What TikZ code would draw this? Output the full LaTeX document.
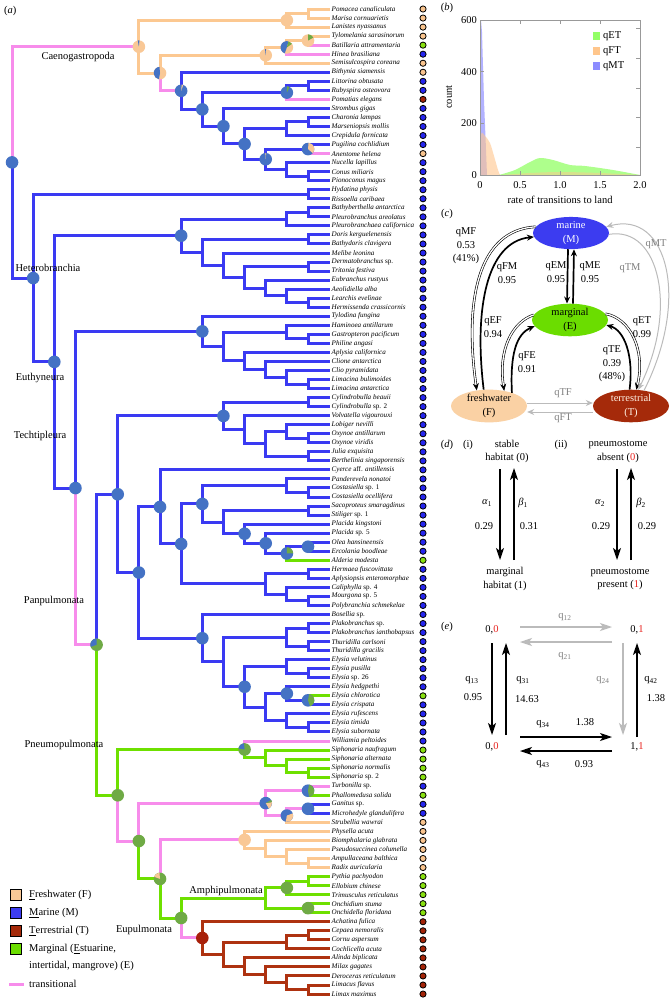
\documentclass[tikz,border=0pt]{standalone}
\usepackage{fontspec}
\setmainfont{Liberation Serif}
\usetikzlibrary{calc,arrows.meta,shapes.geometric}
\definecolor{brO}{HTML}{FCC891}
\definecolor{brB}{HTML}{3A3AF2}
\definecolor{brG}{HTML}{6EE000}
\definecolor{brR}{HTML}{AE3210}
\definecolor{brP}{HTML}{F78CEB}
\definecolor{pB}{HTML}{4472C4}
\definecolor{pO}{HTML}{F9C896}
\definecolor{pG}{HTML}{6FAA45}
\definecolor{pR}{HTML}{A8200A}
\definecolor{dO}{HTML}{F9C48E}
\definecolor{dB}{HTML}{2626EE}
\definecolor{dG}{HTML}{88E010}
\definecolor{dR}{HTML}{A32408}
\definecolor{mB}{HTML}{3C3CF0}
\definecolor{mE}{HTML}{6BDD00}
\definecolor{mF}{HTML}{FAD1A4}
\definecolor{mT}{HTML}{A52A0A}
\definecolor{gr}{HTML}{BBBBBB}
\definecolor{rd}{HTML}{E8221E}
\newcommand\fs{\fontsize{10.5}{13.5}\selectfont}
\newcommand\fl{\fontsize{7.1}{8}\selectfont\itshape}
\newcommand\mknd[4]{\path let \p1=($(#3)!.5!(#4)$) in coordinate (#1) at ({(308-21.14*(#2-1))*1pt},\y1);}
\newcommand\edg[3]{\foreach \cc in {#3}{\draw[#1] (#2) |- (\cc);}}
\newcommand\pf[2]{\fill[#2] (#1) circle[radius=6.3];}
\newcommand\psc[4]{\fill[#2] (#1) -- ++({-(#3)}:6.3) arc[start angle={-(#3)},end angle={-(#4)},radius=6.3] -- cycle;}
\begin{document}
\begin{tikzpicture}[x=1pt,y=-1pt,
  bO/.style={draw=brO,line width=3pt},
  bB/.style={draw=brB,line width=3pt},
  bG/.style={draw=brG,line width=3pt},
  bR/.style={draw=brR,line width=3pt},
  bP/.style={draw=brP,line width=3pt},
  leaf/.style={anchor=west,inner sep=0pt,font=\fl},
  tip/.style={circle,draw=black,line width=0.8pt,minimum size=6.2pt,inner sep=0pt},
  clade/.style={inner sep=0pt,font=\fs},
  ft/.style={inner sep=0pt,font=\fs},
  ell/.style={ellipse,minimum width=76pt,minimum height=27pt,inner sep=0pt,align=center,font=\fs},
  dbl/.style={double=white,double distance=1.3pt,line width=0.6pt},
  sol/.style={line width=1.7pt},
  tipc/.style={-{Stealth[length=7pt,width=6pt]}},
  big/.style={line width=1.2pt,-{Stealth[length=12pt,width=8pt,inset=3pt]}},
  ax/.style={draw=gray!80,line width=0.6pt}]
\useasboundingbox (0,0) rectangle (672,999);
\fill[white] (0,0) rectangle (672,999);
% ---------------- leaves
\foreach \i/\nm/\dc in {1/Pomacea canaliculata/dO,2/Marisa cornuarietis/dO,3/Lanistes nyassanus/dO,4/Tylomelania sarasinorum/dO,5/Batillaria attramentaria/dG,6/Hinea brasiliana/dB,7/Semisulcospira coreana/dO,8/Bithynia siamensis/dO,9/Littorina obtusata/dB,10/Rubyspira osteovora/dB,11/Pomatias elegans/dR,12/Strombus gigas/dB,13/Charonia lampas/dB,14/Marseniopsis mollis/dB,15/Crepidula fornicata/dB,16/Pugilina cochlidium/dB,17/Anentome helena/dO,18/Nucella lapillus/dB,19/Conus miliaris/dB,20/Pionoconus magus/dB,21/Hydatina physis/dB,22/Rissoella caribaea/dB,23/Bathyberthella antarctica/dB,24/Pleurobranchus areolatus/dB,25/Pleurobranchaea californica/dB,26/Doris kerguelenensis/dB,27/Bathydoris clavigera/dB,28/Melibe leonina/dB,29/Dermatobranchus \textup{sp.}/dB,30/Tritonia festiva/dB,31/Eubranchus rustyus/dB,32/Aeolidiella alba/dB,33/Learchis evelinae/dB,34/Hermissenda crassicornis/dB,35/Tylodina fungina/dB,36/Haminoea antillarum/dB,37/Gastropteron pacificum/dB,38/Philine angasi/dB,39/Aplysia californica/dB,40/Clione antarctica/dB,41/Clio pyramidata/dB,42/Limacina bulimoides/dB,43/Limacina antarctica/dB,44/Cylindrobulla beauii/dB,45/Cylindrobulla \textup{sp. 2}/dB,46/Volvatella vigourouxi/dB,47/Lobiger nevilli/dB,48/Oxynoe antillarum/dB,49/Oxynoe viridis/dB,50/Julia exquisita/dB,51/Berthelinia singaporensis/dB,52/Cyerce \textup{aff.} antillensis/dB,53/Panderevela nonatoi/dB,54/Costasiella \textup{sp. 1}/dB,55/Costasiella ocellifera/dB,56/Sacoproteus smaragdinus/dB,57/Stiliger \textup{sp. 1}/dB,58/Placida kingstoni/dB,59/Placida \textup{sp. 5}/dB,60/Olea hansineensis/dB,61/Ercolania boodleae/dB,62/Alderia modesta/dG,63/Hermaea fuscovittata/dB,64/Aplysiopsis enteromorphae/dB,65/Caliphylla \textup{sp. 4}/dB,66/Mourgona \textup{sp. 5}/dB,67/Polybranchia schmekelae/dB,68/Bosellia \textup{sp.}/dB,69/Plakobranchus \textup{sp.}/dB,70/Plakobranchus ianthobapsus/dB,71/Thuridilla carlsoni/dB,72/Thuridilla gracilis/dB,73/Elysia velutinus/dB,74/Elysia pusilla/dB,75/Elysia \textup{sp. 26}/dB,76/Elysia hedgpethi/dB,77/Elysia chlorotica/dG,78/Elysia crispata/dB,79/Elysia rufescens/dB,80/Elysia timida/dB,81/Elysia subornata/dB,82/Williamia peltoides/dB,83/Siphonaria naufragum/dG,84/Siphonaria alternata/dG,85/Siphonaria normalis/dG,86/Siphonaria \textup{sp. 2}/dG,87/Turbonilla \textup{sp.}/dB,88/Phallomedusa solida/dG,89/Ganitus \textup{sp.}/dB,90/Microhedyle glandulifera/dB,91/Strubellia wawrai/dO,92/Physella acuta/dO,93/Biomphalaria glabrata/dO,94/Pseudosuccinea columella/dO,95/Ampullaceana balthica/dO,96/Radix auricularia/dO,97/Pythia pachyodon/dG,98/Ellobium chinese/dG,99/Trimusculus reticulatus/dG,100/Onchidium stuma/dG,101/Onchidella floridana/dG,102/Achatina fulica/dR,103/Cepaea nemoralis/dR,104/Cornu aspersum/dR,105/Cochlicella acuta/dR,106/Alinda biplicata/dR,107/Milax gagates/dR,108/Deroceras reticulatum/dR,109/Limacus flavus/dR,110/Limax maximus/dR}{
  \pgfmathsetmacro\yy{9+(\i-1)*9.037}
  \coordinate (L\i) at (330,\yy);
  \node[leaf] (T\i) at (331.5,\yy) {\nm};
  \node[tip,fill=\dc] (D\i) at (423,\yy) {};
}
% ---------------- internal nodes
\mknd{pm}{1}{L1}{L2}\mknd{a1}{2}{pm}{L3}\mknd{tb}{1}{L4}{L5}\mknd{c}{2}{tb}{L6}\mknd{b}{3}{c}{L7}
\mknd{lr}{1}{L9}{L10}\mknd{lrp}{2}{lr}{L11}\mknd{cm}{1}{L13}{L14}\mknd{cmc}{2}{cm}{L15}
\mknd{pa}{1}{L16}{L17}\mknd{cp}{1}{L19}{L20}\mknd{ncp}{2}{L18}{cp}\mknd{h}{3}{pa}{ncp}
\mknd{g}{4}{cmc}{h}\mknd{f}{5}{L12}{g}\mknd{e}{6}{lrp}{f}\mknd{d}{7}{L8}{e}\mknd{a2}{8}{b}{d}\mknd{caeno}{9}{a1}{a2}
\mknd{hr}{1}{L21}{L22}\mknd{bp}{1}{L23}{L24}\mknd{pl}{2}{bp}{L25}\mknd{db}{1}{L26}{L27}
\mknd{dt}{1}{L29}{L30}\mknd{lh}{1}{L33}{L34}\mknd{alh}{2}{L32}{lh}\mknd{ealh}{3}{L31}{alh}
\mknd{dte}{4}{dt}{ealh}\mknd{mdte}{5}{L28}{dte}\mknd{nudib}{6}{db}{mdte}\mknd{nudip}{7}{pl}{nudib}
\mknd{gp}{1}{L37}{L38}\mknd{ceph}{2}{L36}{gp}\mknd{lim}{1}{L42}{L43}\mknd{cl}{2}{L41}{lim}
\mknd{ccl}{3}{L40}{cl}\mknd{acl}{4}{L39}{ccl}\mknd{cepa}{5}{ceph}{acl}\mknd{euop}{6}{L35}{cepa}
\mknd{cyl}{1}{L44}{L45}\mknd{oxy}{1}{L48}{L49}\mknd{lo}{2}{L47}{oxy}\mknd{jb}{1}{L50}{L51}
\mknd{ljb}{3}{lo}{jb}\mknd{vol}{4}{L46}{ljb}\mknd{oxyn}{5}{cyl}{vol}
\mknd{cos}{1}{L54}{L55}\mknd{pcs}{2}{L53}{cos}\mknd{ss}{1}{L56}{L57}\mknd{oe}{1}{L60}{L61}
\mknd{n1}{2}{oe}{L62}\mknd{n2}{3}{L59}{n1}\mknd{n3}{4}{L58}{n2}\mknd{n4}{5}{ss}{n3}\mknd{n5}{6}{pcs}{n4}
\mknd{ha}{1}{L63}{L64}\mknd{mp}{1}{L66}{L67}\mknd{cmp}{2}{L65}{mp}\mknd{hcmp}{3}{ha}{cmp}
\mknd{lm}{7}{n5}{hcmp}\mknd{cy}{8}{L52}{lm}
\mknd{pk}{1}{L69}{L70}\mknd{th}{1}{L71}{L72}\mknd{pt}{2}{pk}{th}\mknd{ps}{1}{L74}{L75}
\mknd{vps}{2}{L73}{ps}\mknd{cc}{1}{L77}{L78}\mknd{hcc}{2}{L76}{cc}\mknd{ts}{1}{L80}{L81}
\mknd{rts}{2}{L79}{ts}\mknd{hrr}{3}{hcc}{rts}\mknd{ely}{4}{vps}{hrr}\mknd{ptely}{5}{pt}{ely}
\mknd{plako}{6}{L68}{ptely}\mknd{plkb}{9}{cy}{plako}\mknd{sacog}{10}{oxyn}{plkb}
\mknd{sn}{1}{L85}{L86}\mknd{asn}{2}{L84}{sn}\mknd{nasn}{3}{L83}{asn}\mknd{siph}{4}{L82}{nasn}
\mknd{tp}{1}{L87}{L88}\mknd{gm}{1}{L89}{L90}\mknd{gms}{2}{gm}{L91}\mknd{x}{3}{tp}{gms}
\mknd{ar}{1}{L95}{L96}\mknd{par}{2}{L94}{ar}\mknd{bpar}{3}{L93}{par}\mknd{hyg}{4}{L92}{bpar}
\mknd{pye}{1}{L97}{L98}\mknd{pet}{2}{pye}{L99}\mknd{oo}{1}{L100}{L101}\mknd{amph}{3}{pet}{oo}
\mknd{cct}{1}{L103}{L104}\mknd{ccc}{2}{cct}{L105}\mknd{ll}{1}{L109}{L110}\mknd{dll}{2}{L108}{ll}
\mknd{mdll}{3}{L107}{dll}\mknd{amdll}{4}{L106}{mdll}\mknd{cam}{5}{ccc}{amdll}\mknd{stylo}{6}{L102}{cam}
\mknd{eupul}{7}{amph}{stylo}\mknd{hyeu}{8}{hyg}{eupul}\mknd{q}{9}{x}{hyeu}\mknd{pneu}{10}{siph}{q}
\mknd{panpul}{11}{sacog}{pneu}\mknd{tecti}{12}{euop}{panpul}\mknd{euthy}{13}{nudip}{tecti}
\mknd{het}{14}{hr}{euthy}\mknd{root}{15}{caeno}{het}
% ---------------- edges
\edg{bO}{pm}{L1,L2}\edg{bO}{a1}{pm,L3}\edg{bO}{tb}{L4}\edg{bP}{tb}{L5}
\edg{bO}{c}{tb}\edg{bP}{c}{L6}\edg{bO}{b}{c,L7}\edg{bO}{a2}{b}\edg{bP}{a2}{d}
\edg{bO}{caeno}{a1,a2}\edg{bP}{root}{caeno}
\edg{bB}{d}{L8,e}\edg{bB}{e}{lrp,f}\edg{bB}{lrp}{lr}\edg{bP}{lrp}{L11}\edg{bB}{lr}{L9,L10}
\edg{bB}{f}{L12,g}\edg{bB}{g}{cmc,h}\edg{bB}{cmc}{cm,L15}\edg{bB}{cm}{L13,L14}
\edg{bB}{h}{pa,ncp}\edg{bB}{pa}{L16}\edg{bP}{pa}{L17}\edg{bB}{ncp}{L18,cp}\edg{bB}{cp}{L19,L20}
\edg{bB}{root}{het}\edg{bB}{het}{hr,euthy}\edg{bB}{hr}{L21,L22}\edg{bB}{euthy}{nudip,tecti}
\edg{bB}{nudip}{pl,nudib}\edg{bB}{pl}{bp,L25}\edg{bB}{bp}{L23,L24}\edg{bB}{nudib}{db,mdte}
\edg{bB}{db}{L26,L27}\edg{bB}{mdte}{L28,dte}\edg{bB}{dte}{dt,ealh}\edg{bB}{dt}{L29,L30}
\edg{bB}{ealh}{L31,alh}\edg{bB}{alh}{L32,lh}\edg{bB}{lh}{L33,L34}
\edg{bB}{tecti}{euop}\edg{bB}{euop}{L35,cepa}\edg{bB}{cepa}{ceph,acl}\edg{bB}{ceph}{L36,gp}
\edg{bB}{gp}{L37,L38}\edg{bB}{acl}{L39,ccl}\edg{bB}{ccl}{L40,cl}\edg{bB}{cl}{L41,lim}\edg{bB}{lim}{L42,L43}
\edg{bP}{tecti}{panpul}\edg{bB}{panpul}{sacog}\edg{bB}{sacog}{oxyn,plkb}\edg{bB}{oxyn}{cyl,vol}
\edg{bB}{cyl}{L44,L45}\edg{bB}{vol}{L46,ljb}\edg{bB}{ljb}{lo,jb}\edg{bB}{lo}{L47,oxy}
\edg{bB}{oxy}{L48,L49}\edg{bB}{jb}{L50,L51}\edg{bB}{plkb}{cy,plako}\edg{bB}{cy}{L52,lm}
\edg{bB}{lm}{n5,hcmp}\edg{bB}{n5}{pcs,n4}\edg{bB}{pcs}{L53,cos}\edg{bB}{cos}{L54,L55}
\edg{bB}{n4}{ss,n3}\edg{bB}{ss}{L56,L57}\edg{bB}{n3}{L58,n2}\edg{bB}{n2}{L59,n1}
\edg{bB}{n1}{oe}\edg{bG}{n1}{L62}\edg{bB}{oe}{L60,L61}\edg{bB}{hcmp}{ha,cmp}\edg{bB}{ha}{L63,L64}
\edg{bB}{cmp}{L65,mp}\edg{bB}{mp}{L66,L67}\edg{bB}{plako}{L68,ptely}\edg{bB}{ptely}{pt,ely}
\edg{bB}{pt}{pk,th}\edg{bB}{pk}{L69,L70}\edg{bB}{th}{L71,L72}\edg{bB}{ely}{vps,hrr}
\edg{bB}{vps}{L73,ps}\edg{bB}{ps}{L74,L75}\edg{bB}{hrr}{hcc,rts}\edg{bB}{hcc}{L76,cc}
\edg{bG}{cc}{L77}\edg{bB}{cc}{L78}\edg{bB}{rts}{L79,ts}\edg{bB}{ts}{L80,L81}
\edg{bG}{panpul}{pneu}\edg{bG}{pneu}{siph}\edg{bP}{siph}{L82}\edg{bG}{siph}{nasn}
\edg{bG}{nasn}{L83,asn}\edg{bG}{asn}{L84,sn}\edg{bG}{sn}{L85,L86}
\edg{bP}{pneu}{q}\edg{bP}{q}{x}\edg{bG}{q}{hyeu}\edg{bP}{x}{tp,gms}\edg{bP}{tp}{L87}\edg{bG}{tp}{L88}
\edg{bP}{gms}{gm}\edg{bO}{gms}{L91}\edg{bB}{gm}{L89,L90}
\edg{bP}{hyeu}{hyg}\edg{bG}{hyeu}{eupul}\edg{bO}{hyg}{L92,bpar}\edg{bO}{bpar}{L93,par}
\edg{bO}{par}{L94,ar}\edg{bO}{ar}{L95,L96}
\edg{bG}{eupul}{amph}\edg{bP}{eupul}{stylo}\edg{bG}{amph}{pet,oo}\edg{bG}{pet}{pye,L99}
\edg{bG}{pye}{L97,L98}\edg{bG}{oo}{L100,L101}
\edg{bR}{stylo}{L102,cam}\edg{bR}{cam}{ccc,amdll}\edg{bR}{ccc}{cct,L105}\edg{bR}{cct}{L103,L104}
\edg{bR}{amdll}{L106,mdll}\edg{bR}{mdll}{L107,dll}\edg{bR}{dll}{L108,ll}\edg{bR}{ll}{L109,L110}
% ---------------- pies
\pf{caeno}{pO}\psc{caeno}{pB}{85}{100}
\pf{a1}{pO}
\pf{a2}{pO}\psc{a2}{pB}{95}{260}
\pf{b}{pO}\psc{b}{pB}{88}{96}
\pf{c}{pO}\psc{c}{pB}{75}{250}\psc{c}{pG}{35}{75}
\pf{tb}{pO}\psc{tb}{pG}{30}{90}
\pf{d}{pB}\psc{d}{pO}{70}{85}
\pf{e}{pB}
\pf{lrp}{pB}\psc{lrp}{pG}{65}{88}
\pf{f}{pB}\pf{g}{pB}
\pf{h}{pB}\psc{h}{pO}{86}{93}
\pf{pa}{pB}\psc{pa}{pO}{-40}{85}
\pf{root}{pB}\pf{het}{pB}\pf{euthy}{pB}\pf{tecti}{pB}
\pf{nudip}{pB}\pf{euop}{pB}\pf{oxyn}{pB}\pf{cy}{pB}\pf{lm}{pB}\pf{n5}{pB}\pf{n3}{pB}\pf{n2}{pB}
\pf{n1}{pB}\psc{n1}{pG}{0}{90}
\pf{oe}{pB}\pf{plako}{pB}\pf{ely}{pB}\pf{hcc}{pB}
\pf{cc}{pB}\psc{cc}{pG}{-70}{80}
\pf{sacog}{pB}\pf{plkb}{pB}
\pf{panpul}{pG}\psc{panpul}{pB}{90}{200}
\pf{pneu}{pG}\pf{q}{pG}
\pf{siph}{pG}\psc{siph}{pB}{95}{170}
\pf{x}{pB}\psc{x}{pO}{-60}{10}\psc{x}{pG}{10}{30}
\pf{tp}{pB}\psc{tp}{pG}{-80}{80}
\pf{gms}{pB}\psc{gms}{pO}{-100}{20}
\pf{gm}{pB}
\pf{hyg}{pO}
\pf{hyeu}{pG}\psc{hyeu}{pO}{95}{160}
\pf{eupul}{pG}\pf{pet}{pG}\pf{oo}{pG}
\pf{stylo}{pR}
% ---------------- clade labels
\node[ft,anchor=west] (lbla) at (4,11) {(\textit{a})};
\node[clade] (lc1) at (78,57) {Caenogastropoda};
\node[clade] (lc2) at (48,268) {Heterobranchia};
\node[clade] (lc3) at (40,378) {Euthyneura};
\node[clade] (lc4) at (40,436) {Techtipleura};
\node[clade] (lc5) at (54,601) {Panpulmonata};
\node[clade] (lc6) at (64,745) {Pneumopulmonata};
\node[clade] (lc7) at (226,891) {Amphipulmonata};
\node[clade] (lc8) at (144,930) {Eupulmonata};
% ---------------- legend
\foreach \yy/\cl/\tx [count=\k] in {895/pO/{\underline{F}reshwater (F)},913/mB/{\underline{M}arine (M)},931/mT/{\underline{T}errestrial (T)},949/mE/{Marginal (\underline{E}stuarine,}}{
  \filldraw[fill=\cl,draw=black,line width=0.8pt] (10,\yy-5.5) rectangle (21,\yy+5.5);
  \node[ft,anchor=west] (lg\k) at (29,\yy) {\tx};
}
\node[ft,anchor=west] (lg5) at (29,966) {intertidal, mangrove) (E)};
\draw[brP,line width=3pt] (9,984) -- (24,984);
\node[ft,anchor=west] (lg6) at (29,984) {transitional};
% ---------------- panel b
\node[ft] (lblb) at (447,8) {(\textit{b})};
\fill[blue!55,opacity=0.55] (481,175) -- (481,20) -- (482,32) -- (484,100) -- (485.5,137) -- (487,175) -- cycle;
\fill[orange!45,opacity=0.6] plot[smooth] coordinates {(481,175) (481,135) (485,136) (490,143) (494,156) (498,170) (500,175)} -- cycle;
\fill[green!60!lime,opacity=0.45] plot[smooth] coordinates {(499,175) (515,170) (530,162) (540,158) (553,160) (570,165) (585,166) (613,170) (640,175)} -- cycle;
\fill[orange!45,opacity=0.5] plot[smooth] coordinates {(502,175) (530,173) (560,172) (600,173) (640,175)} -- cycle;
\draw[ax] (480,20) rectangle (640,175);
\foreach \yy in {20,71.7,123.3}{\draw[ax] (480,\yy) -- (484,\yy);}
\foreach \yy in {28.5,58,88,117.5,147}{\draw[ax] (640,\yy) -- (636,\yy);}
\foreach \xx in {520,560,600}{\draw[ax] (\xx,20) -- (\xx,24); \draw[ax] (\xx,175) -- (\xx,171);}
\foreach \yy/\tt in {20/600,71.7/400,123.3/200,175/0}{\node[ft,anchor=east] at (477,\yy) {\tt};}
\foreach \xx/\tt in {480/0,520/0.5,560/1.0,600/1.5,640/2.0}{\node[ft] at (\xx,185) {\tt};}
\node[ft,rotate=90] (cnt) at (449,97) {count};
\node[ft] (rtl) at (560,200) {rate of transitions to land};
\fill[green!60!lime,opacity=0.6] (593,32) rectangle (600,40);
\fill[orange!45] (593,47) rectangle (600,55);
\fill[blue!45] (593,62) rectangle (600,70);
\node[ft,anchor=west] (lq1) at (603,36) {qET};
\node[ft,anchor=west] (lq2) at (603,51) {qFT};
\node[ft,anchor=west] (lq3) at (603,66) {qMT};
% ---------------- panel c
\node[ft] (lblc) at (447,214) {(\textit{c})};
\node[ell,fill=mB,text=white] (M) at (571,233) {marine\\(M)};
\node[ell,fill=mE] (E) at (570,320) {marginal\\(E)};
\node[ell,fill=mF] (F) at (489,406) {freshwater\\(F)};
\node[ell,fill=mT,text=white!90!orange] (T) at (631,406) {terrestrial\\(T)};
\draw[dbl,tipc] (M.170) .. controls (478,230) and (464,300) .. (F.128);
\draw[sol,tipc] (F.108) .. controls (474,310) and (486,242) .. (M.186);
\draw[dbl,tipc] (E.172) .. controls (512,322) and (498,350) .. (F.45);
\draw[sol,tipc] (F.30) .. controls (510,355) and (516,334) .. (E.190);
\draw[dbl,tipc] (E.10) .. controls (630,318) and (646,350) .. (T.72);
\draw[sol,tipc] (T.95) .. controls (634,355) and (624,330) .. (E.-8);
\draw[sol,tipc] ([xshift=-3pt]M.south) -- ([xshift=-3pt]E.north);
\draw[sol,tipc] ([xshift=3pt]E.north) -- ([xshift=3pt]M.north |- M.south);
\draw[gr,line width=1pt,tipc] (T.50) .. controls (690,300) and (668,210) .. (M.10);
\draw[gr,line width=1pt,tipc] (M.-2) .. controls (660,226) and (678,310) .. (T.66);
\draw[gr,line width=1pt,tipc] ([yshift=-6pt]T.west) -- ([yshift=-6pt]F.east);
\draw[gr,line width=1pt,tipc] ([yshift=3pt]F.east) -- ([yshift=3pt]T.west);
\node[ft,align=center] (l1) at (466,246) {qMF\\0.53\\(41\%)};
\node[ft,align=center] (l2) at (507,273) {qFM\\0.95};
\node[ft,align=center] (l3) at (556,272) {qEM\\0.95};
\node[ft,align=center] (l4) at (590,272) {qME\\0.95};
\node[ft,text=gray] (l5) at (656,244) {qMT};
\node[ft,text=gray] (l6) at (630,268) {qTM};
\node[ft,align=center] (l7) at (493,327) {qEF\\0.94};
\node[ft,align=center] (l8) at (527,362) {qFE\\0.91};
\node[ft,align=center] (l9) at (642,327) {qET\\0.99};
\node[ft,align=center] (l10) at (612,364) {qTE\\0.39\\(48\%)};
\node[ft,text=gray] (l11) at (563,393) {qTF};
\node[ft,text=gray] (l12) at (563,418) {qFT};
% ---------------- panel d
\node[ft] (lbld) at (447,445) {(\textit{d})};
\node[ft] (di) at (468,445) {(i)};
\node[ft,align=center] (s0) at (507,451.5) {stable\\habitat (0)};
\node[ft] (dii) at (561,445) {(ii)};
\node[ft,align=center] (p0) at (618,451.5) {pneumostome\\absent (\textcolor{rd}{0})};
\node[ft,align=center] (s1) at (505,579) {marginal\\habitat (1)};
\node[ft,align=center] (p1) at (620,579) {pneumostome\\present (\textcolor{rd}{1})};
\coordinate (da1) at (500,469); \coordinate (da2) at (500,560);
\coordinate (db1) at (514,560); \coordinate (db2) at (514,468);
\coordinate (dc1) at (617,469); \coordinate (dc2) at (617,560);
\coordinate (dd1) at (631,560); \coordinate (dd2) at (631,468);
\draw[big] (da1) -- (da2); \draw[big] (db1) -- (db2);
\draw[big] (dc1) -- (dc2); \draw[big] (dd1) -- (dd2);
\node[ft] (al1) at (487,503) {\textit{α}\textsubscript{1}};
\node[ft] (be1) at (523,503) {\textit{β}\textsubscript{1}};
\node[ft] (v1) at (484,526) {0.29};
\node[ft] (v2) at (529,526) {0.31};
\node[ft] (al2) at (600,503) {\textit{α}\textsubscript{2}};
\node[ft] (be2) at (641,503) {\textit{β}\textsubscript{2}};
\node[ft] (v3) at (601,526) {0.29};
\node[ft] (v4) at (647,526) {0.29};
% ---------------- panel e
\node[ft] (lble) at (447,627) {(\textit{e})};
\node[ft] (e00) at (492,630) {0,\textcolor{rd}{0}};
\node[ft] (e01) at (637,630) {0,\textcolor{rd}{1}};
\node[ft] (e10) at (492,747) {0,\textcolor{rd}{0}};
\node[ft] (e11) at (637,747) {1,\textcolor{rd}{1}};
\draw[big,gr] (520,627) -- (612,627);
\draw[big,gr] (612,642) -- (520,642);
\draw[big] (492,643) -- (492,735);
\draw[big] (506,735) -- (506,643);
\draw[big,gr] (623,643) -- (623,735);
\draw[big] (637,737) -- (637,643);
\draw[big] (520,737) -- (612,737);
\draw[big] (612,751) -- (520,751);
\node[ft,text=gray] (q12) at (565,617) {q\textsubscript{12}};
\node[ft,text=gray] (q21) at (565,656) {q\textsubscript{21}};
\node[ft] (q13) at (472,680) {q\textsubscript{13}};
\node[ft] (q13v) at (473,697) {0.95};
\node[ft] (q31) at (523,680) {q\textsubscript{31}};
\node[ft] (q31v) at (527,699) {14.63};
\node[ft,text=gray] (q24) at (603,680) {q\textsubscript{24}};
\node[ft] (q42) at (651,680) {q\textsubscript{42}};
\node[ft] (q42v) at (656,698) {1.38};
\node[ft] (q34) at (543,724) {q\textsubscript{34}};
\node[ft] (q34v) at (585,722) {1.38};
\node[ft] (q43) at (543,764) {q\textsubscript{43}};
\node[ft] (q43v) at (584,764) {0.93};
\end{tikzpicture}
\end{document}
